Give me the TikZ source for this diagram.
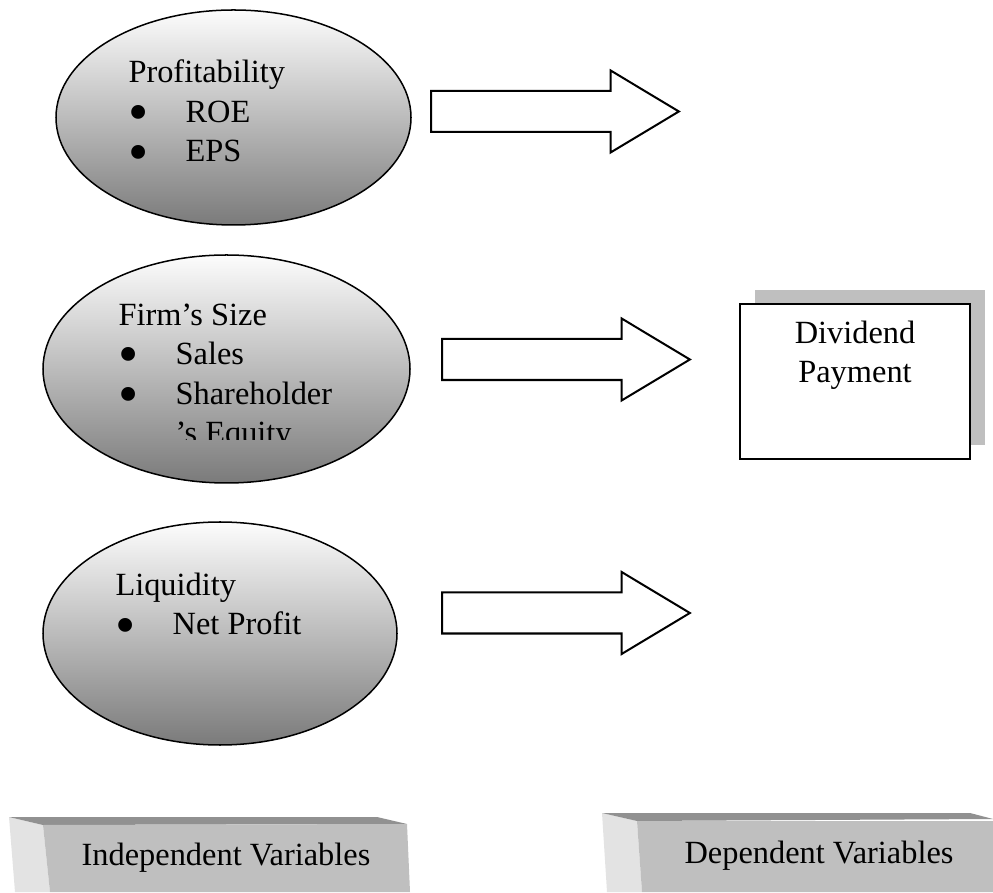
\documentclass[tikz,border=0pt]{standalone}
\usepackage{fontspec}
\setmainfont{Liberation Serif}
\usetikzlibrary{shapes.geometric, shapes.arrows, shadows, positioning}

\newcommand{\bitem}[1]{\makebox[0.8cm][l]{\smash{\raisebox{-3.6pt}{\fontsize{23}{0}\selectfont\textbullet}}}#1}

\begin{document}
\begin{tikzpicture}[font=\fontsize{12.9}{15.8}\selectfont,
	oval/.style={ellipse, draw, line width=0.6pt, top color=black!1, middle color=black!16, bottom color=black!52, inner sep=0pt},
	blockarrow/.style={single arrow, draw, line width=0.8pt, fill=white, anchor=tail,
		minimum height=3.47cm, inner xsep=0pt, inner ysep=0.273cm,
		single arrow head extend=0.287cm, single arrow tip angle=62},
	itemtext/.style={anchor=base west, align=left, inner sep=0pt},
	divbox/.style={rectangle, draw, line width=0.9pt, fill=white, minimum width=3.22cm, minimum height=2.17cm,
		drop shadow={shadow xshift=0.21cm, shadow yshift=0.2cm, fill=black!25, opacity=1}},
	topface/.style={fill=black!43},
	frontface/.style={fill=black!25},
	sideface/.style={fill=black!11}]
	\useasboundingbox (0,0) rectangle (13.902,12.488);

	% Independent variables (left)
	\node[oval, minimum width=4.97cm, minimum height=3.01cm] (prof) at (3.269,10.843) {};
	\node[itemtext] (proftxt) at (1.792,10.22) {Profitability\\\bitem{ROE}\\\bitem{EPS}};

	\node[oval, minimum width=5.138cm, minimum height=3.192cm] (size) at (3.171,7.322) {};
	\begin{scope}
		\clip (0,6.328) rectangle (13.902,12.488);
		\node[itemtext] (sizetxt) at (1.652,6.272) {Firm's Size\\\bitem{Sales}\\\bitem{Shareholder}\\\hspace{0.8cm}'s Equity};
	\end{scope}

	\node[oval, minimum width=4.956cm, minimum height=3.122cm] (liq) at (3.08,3.619) {};
	\node[itemtext] (liqtxt) at (1.61,3.598) {Liquidity\\\bitem{Net Profit}};

	% Block arrows
	\node[blockarrow] (arr1) at (6.02,10.927) {};
	\node[blockarrow] (arr2) at (6.174,7.455) {};
	\node[blockarrow] (arr3) at (6.174,3.906) {};

	% Dependent variable (right)
	\node[divbox] (div) at (11.97,7.147) {};
	\node[align=center, anchor=base] (divtxt) at (11.97,7.126) {Dividend\\Payment};

	% Bottom labels
	\fill[sideface] (0.126,1.05) -- (0.602,0.938) -- (0.7,0) -- (0.21,0) -- cycle;
	\fill[topface] (0.126,1.05) -- (5.278,1.05) -- (5.698,0.952) -- (0.602,0.938) -- cycle;
	\fill[frontface] (0.602,0.938) -- (5.698,0.952) -- (5.74,0) -- (0.7,0) -- cycle;
	\node[anchor=base] (indep) at (3.164,0.378) {Independent Variables};

	\fill[sideface] (8.428,1.106) -- (8.918,0.994) -- (8.988,0) -- (8.498,0) -- cycle;
	\fill[topface] (8.428,1.106) -- (13.58,1.106) -- (13.902,1.022) -- (8.918,0.994) -- cycle;
	\fill[frontface] (8.918,0.994) -- (13.902,0.994) -- (13.902,0) -- (8.988,0) -- cycle;
	\node[anchor=base] (dep) at (11.466,0.406) {Dependent Variables};
\end{tikzpicture}
\end{document}
